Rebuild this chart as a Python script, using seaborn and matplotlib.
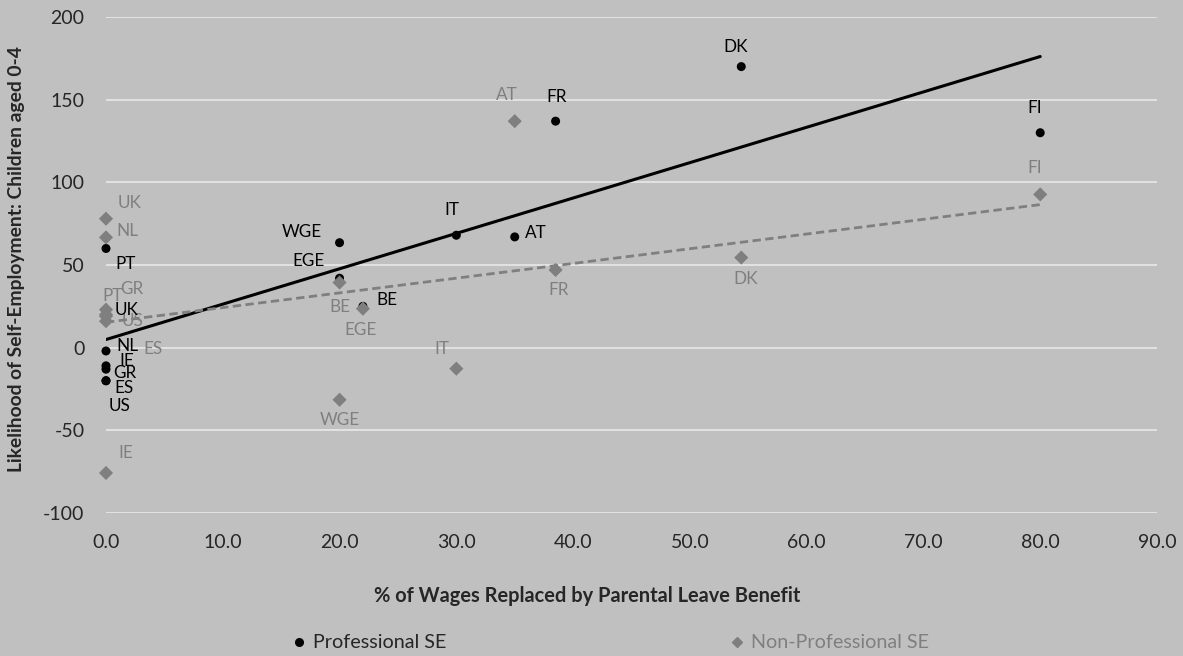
import matplotlib
matplotlib.use("Agg")
import matplotlib.pyplot as plt
import pandas as pd
import seaborn as sns
from matplotlib.lines import Line2D
from matplotlib.ticker import FormatStrFormatter

# Country codes and share of wages replaced by parental leave benefit (%)
countries = ["AT", "BE", "DK", "FI", "FR", "IT", "WGE", "EGE",
             "PT", "UK", "NL", "IE", "GR", "ES", "US"]
wage_replaced = [35.0, 22.0, 54.4, 80.0, 38.5, 30.0, 20.0, 20.0,
                 0.0, 0.0, 0.0, 0.0, 0.0, 0.0, 0.0]

# Likelihood of self-employment, mothers with children aged 0-4
professional_se = [67.0, 25.0, 170.0, 130.0, 137.0, 68.0, 63.5, 42.0,
                   60.0, 19.0, -2.0, -11.0, -13.0, -20.0, -20.0]
non_professional_se = [137.0, 23.6, 54.5, 92.7, 47.0, -12.7, -31.5, 39.4,
                       23.0, 78.0, 66.7, -75.8, 20.0, 19.0, 16.0]

x_ticks = [0, 10, 20, 30, 40, 50, 60, 70, 80, 90]
y_ticks = [-100, -50, 0, 50, 100, 150, 200]

# Label nudges in pixels (dx, dy) for readability
prof_offsets = {
    "AT": (21, 4), "BE": (24, 6), "DK": (-6, 20), "FI": (-6, 25),
    "FR": (1, 24), "IT": (-4, 25), "WGE": (-38, 11), "EGE": (-31, 17),
    "PT": (20, -16), "UK": (21, 6), "NL": (21, 5), "IE": (21, 5),
    "GR": (19, -4), "ES": (18, -7), "US": (14, -25),
}
nonprof_offsets = {
    "AT": (-8, 26), "BE": (-23, 2), "DK": (4, -21), "FI": (-6, 26),
    "FR": (3, -20), "IT": (-14, 20), "WGE": (0, -20), "EGE": (21, -47),
    "PT": (7, 14), "UK": (24, 16), "NL": (21, 6), "IE": (20, 20),
    "GR": (26, 26), "ES": (47, -33), "US": (27, 0),
}

BG = "#c0c0c0"
GREY = "#7f7f7f"
TEXT = "#262626"

df = pd.DataFrame({
    "country": countries,
    "wage": wage_replaced,
    "prof": professional_se,
    "nonprof": non_professional_se,
})

sns.set_theme(style="white")
plt.rcParams["font.family"] = ["Lato", "DejaVu Sans"]
plt.rcParams["axes.unicode_minus"] = False

W, H = 1183, 656
fig = plt.figure(figsize=(W / 100, H / 100), dpi=100, facecolor=BG)
ax = fig.add_axes([106 / W, (H - 513) / H, (1157 - 106) / W, (513 - 17) / H])
ax.set_facecolor(BG)

# trend lines
sns.regplot(data=df, x="wage", y="prof", ax=ax, scatter=False, ci=None,
            color="black", line_kws={"lw": 2.2, "zorder": 2})
sns.regplot(data=df, x="wage", y="nonprof", ax=ax, scatter=False, ci=None,
            color=GREY, line_kws={"lw": 2.0, "ls": (0, (3, 1.6)), "zorder": 2})

# points
sns.scatterplot(data=df, x="wage", y="prof", ax=ax, color="black", marker="o",
                s=42, edgecolor="none", zorder=3, clip_on=False)
sns.scatterplot(data=df, x="wage", y="nonprof", ax=ax, color=GREY, marker="D",
                s=52, edgecolor="none", zorder=4, clip_on=False)

for c, xv, yv in zip(countries, wage_replaced, professional_se):
    ax.annotate(c, (xv, yv), xytext=prof_offsets[c], textcoords="offset pixels",
                ha="center", va="center", fontsize=12.3, color="black",
                zorder=6, annotation_clip=False)
for c, xv, yv in zip(countries, wage_replaced, non_professional_se):
    ax.annotate(c, (xv, yv), xytext=nonprof_offsets[c], textcoords="offset pixels",
                ha="center", va="center", fontsize=12.3, color=GREY,
                zorder=5, annotation_clip=False)

ax.set_xlim(0, 90)
ax.set_ylim(-100, 200)
ax.set_xticks(x_ticks)
ax.set_yticks(y_ticks)
ax.xaxis.set_major_formatter(FormatStrFormatter("%.1f"))
ax.tick_params(axis="both", length=0, labelsize=14, labelcolor=TEXT)
ax.tick_params(axis="y", pad=15.5)
ax.tick_params(axis="x", pad=15)
ax.yaxis.grid(True, color="#e8e8e8", lw=1.2)
ax.xaxis.grid(False)
ax.set_axisbelow(True)
for s in ax.spines.values():
    s.set_visible(False)
ax.set_xlabel("")
ax.set_ylabel("")

fig.text(17 / W, 1 - 259 / H, "Likelihood of Self-Employment: Children aged 0-4",
         rotation=90, ha="center", va="center", fontsize=13.9,
         fontweight="bold", color=TEXT)
fig.text(587 / W, 1 - 596 / H, "% of Wages Replaced by Parental Leave Benefit",
         ha="center", va="center", fontsize=14.4, fontweight="bold", color=TEXT)

handles = [
    Line2D([], [], ls="none", marker="o", color="black", markersize=5.5),
    Line2D([], [], ls="none", marker="D", color=GREY, markersize=5.5),
]
leg = fig.legend(handles, ["Professional SE", "Non-Professional SE"],
                 loc="center", bbox_to_anchor=(611 / W, 1 - 643 / H), ncol=2,
                 frameon=False, fontsize=14.2, handlelength=0.6,
                 handletextpad=0.45, columnspacing=14.4)
leg.get_texts()[0].set_color(TEXT)
leg.get_texts()[1].set_color(GREY)

fig.savefig("out.png", dpi=100, facecolor=BG)
